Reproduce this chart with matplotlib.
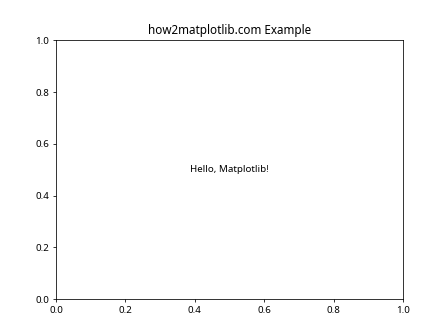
import matplotlib
matplotlib.use("Agg")
import matplotlib.pyplot as plt

plt.rcParams['font.family'] = ['Noto Sans', 'DejaVu Sans']

title = "how2matplotlib.com Example"
label = "Hello, Matplotlib!"
label_pos = [0.5, 0.5]

fig, ax = plt.subplots(figsize=(6.4, 4.8), dpi=70)
ax.text(label_pos[0], label_pos[1], label, ha="center", va="center")
ax.set_title(title)
fig.savefig("out.png", dpi=70)
plt.close(fig)
